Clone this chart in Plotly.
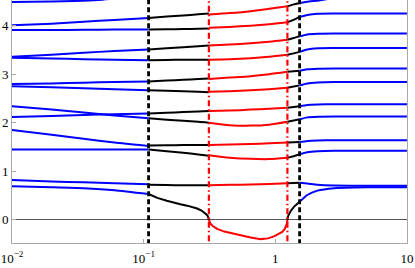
import plotly.graph_objects as go

# ---- x sample points of each regime segment ----
x_seg1 = [0.01, 0.02, 0.035, 0.06, 0.109]
x_seg2 = [0.109, 0.15, 0.2, 0.26, 0.313]
x_seg3 = [0.313, 0.45, 0.65, 0.9, 1.236]
x_seg4 = [1.236, 1.38, 1.53]
x_seg5 = [1.53, 1.75, 2.1, 2.8, 5, 10]
seg_colors = ["#0000ff", "#000000", "#ff0000", "#000000", "#0000ff"]

# ---- branch values (one list per segment) ----
branch_B = [[4.01, 4.04, 4.08, 4.12, 4.16], [4.16, 4.19, 4.21, 4.235, 4.25],
            [4.23, 4.26, 4.30, 4.35, 4.40], [4.40, 4.44, 4.47]]
x_B_tail = [1.53, 1.8, 2.14, 2.5]
y_B_tail = [4.47, 4.50, 4.52, 4.55]
branch_C = [[3.91, 3.91, 3.915, 3.92, 3.92], [3.92, 3.925, 3.93, 3.935, 3.94],
            [3.96, 3.975, 4.00, 4.03, 4.07], [4.07, 4.12, 4.18],
            [4.18, 4.22, 4.245, 4.25, 4.25, 4.25]]
branch_D = [[3.36, 3.40, 3.44, 3.48, 3.51], [3.51, 3.535, 3.555, 3.575, 3.59],
            [3.59, 3.61, 3.64, 3.67, 3.71], [3.71, 3.745, 3.78],
            [3.78, 3.82, 3.835, 3.84, 3.84, 3.84]]
branch_E = [[3.34, 3.325, 3.31, 3.30, 3.29], [3.29, 3.295, 3.30, 3.30, 3.30],
            [3.30, 3.31, 3.33, 3.36, 3.40], [3.40, 3.43, 3.46],
            [3.46, 3.51, 3.535, 3.54, 3.54, 3.54]]
branch_F = [[2.80, 2.81, 2.825, 2.84, 2.85], [2.85, 2.87, 2.885, 2.90, 2.91],
            [2.90, 2.93, 2.96, 3.00, 3.05], [3.05, 3.06, 3.07],
            [3.07, 3.10, 3.115, 3.12, 3.12, 3.12]]
branch_G = [[2.75, 2.73, 2.71, 2.69, 2.67], [2.67, 2.66, 2.65, 2.64, 2.63],
            [2.64, 2.65, 2.67, 2.69, 2.72], [2.72, 2.745, 2.77],
            [2.77, 2.81, 2.83, 2.84, 2.84, 2.84]]
branch_H = [[2.34, 2.27, 2.21, 2.15, 2.09], [2.09, 2.06, 2.04, 2.02, 2.00],
            [2.00, 1.95, 1.94, 1.96, 2.02], [2.02, 2.045, 2.07],
            [2.07, 2.11, 2.125, 2.13, 2.13, 2.13]]
branch_I = [[2.12, 2.14, 2.16, 2.175, 2.19], [2.19, 2.205, 2.22, 2.23, 2.24],
            [2.24, 2.25, 2.27, 2.29, 2.31], [2.31, 2.325, 2.34],
            [2.34, 2.365, 2.375, 2.38, 2.38, 2.38]]
branch_J = [[1.85, 1.75, 1.67, 1.59, 1.52], [1.53, 1.535, 1.54, 1.54, 1.54],
            [1.54, 1.55, 1.56, 1.575, 1.59], [1.59, 1.595, 1.60],
            [1.60, 1.625, 1.635, 1.64, 1.64, 1.64]]
branch_K = [[1.45, 1.45, 1.45, 1.45, 1.45], [1.45, 1.41, 1.38, 1.345, 1.32],
            [1.33, 1.28, 1.255, 1.25, 1.28], [1.28, 1.31, 1.35],
            [1.35, 1.39, 1.41, 1.42, 1.42, 1.42]]
branch_L = [[0.82, 0.79, 0.77, 0.75, 0.73], [0.72, 0.715, 0.71, 0.71, 0.71],
            [0.71, 0.72, 0.725, 0.735, 0.75], [0.75, 0.755, 0.76],
            [0.76, 0.745, 0.72, 0.705, 0.70, 0.70]]

# top branch leaving the frame on the left
x_A = [0.01, 0.02, 0.03, 0.045, 0.06]
y_A = [4.49, 4.50, 4.51, 4.53, 4.56]

# lowest branch (goes negative)
x_M1 = x_seg1
y_M1 = [0.69, 0.67, 0.65, 0.61, 0.53]
x_M2 = [0.109, 0.127, 0.15, 0.169, 0.19, 0.214, 0.235, 0.255, 0.275, 0.29, 0.3, 0.307, 0.311, 0.313]
y_M2 = [0.53, 0.45, 0.39, 0.35, 0.32, 0.29, 0.26, 0.23, 0.19, 0.15, 0.11, 0.075, 0.045, 0.0]
x_M3 = [0.313, 0.316, 0.322, 0.335, 0.362, 0.41, 0.485, 0.56, 0.65, 0.774, 0.88, 0.977, 1.06, 1.13, 1.18, 1.213, 1.228, 1.236]
y_M3 = [0.0, -0.04, -0.08, -0.13, -0.19, -0.245, -0.29, -0.33, -0.365, -0.40, -0.385, -0.345, -0.30, -0.25, -0.19, -0.12, -0.07, 0.0]
x_M4 = [1.236, 1.24, 1.25, 1.27, 1.31, 1.39, 1.46, 1.53]
y_M4 = [0.0, 0.04, 0.07, 0.11, 0.18, 0.27, 0.32, 0.37]
x_M5 = [1.53, 1.75, 2.09, 2.8, 4, 6, 10]
y_M5 = [0.37, 0.51, 0.60, 0.65, 0.665, 0.67, 0.67]

# transition markers
trans_black = [0.109, 1.53]
trans_red = [0.313, 1.236]

# axis ticks
x_tickvals = [0.01, 0.1, 1, 10]
x_ticktext = ["10<sup>\u22122</sup>", "10<sup>\u22121</sup>", "1", "10"]
y_tickvals = [0, 1, 2, 3, 4]

fig = go.Figure()
LW = 2


def add(x, y, color, shape="spline"):
    fig.add_trace(go.Scatter(x=x, y=y, mode="lines",
                             line=dict(color=color, width=LW, shape=shape, smoothing=0.6),
                             showlegend=False, hoverinfo="skip"))


seg_x = [x_seg1, x_seg2, x_seg3, x_seg4, x_seg5]
for br in [branch_B, branch_C, branch_D, branch_E, branch_F, branch_G,
           branch_H, branch_I, branch_J, branch_K, branch_L]:
    for i, ys in enumerate(br):
        add(seg_x[i], ys, seg_colors[i])
add(x_B_tail, y_B_tail, seg_colors[4])
add(x_A, y_A, seg_colors[0])
for i, (xm, ym) in enumerate([(x_M1, y_M1), (x_M2, y_M2), (x_M3, y_M3), (x_M4, y_M4), (x_M5, y_M5)]):
    add(xm, ym, seg_colors[i], shape="linear" if i in (1, 2, 3) else "spline")

for xv in trans_black:
    fig.add_trace(go.Scatter(x=[xv, xv], y=[-1, 5], mode="lines",
                             line=dict(color="#000000", width=2.8, dash="5px,3px"),
                             showlegend=False, hoverinfo="skip"))
for xv in trans_red:
    fig.add_trace(go.Scatter(x=[xv, xv], y=[-1, 5], mode="lines",
                             line=dict(color="#ff0000", width=2.2, dash="6px,3px,1.5px,3px"),
                             showlegend=False, hoverinfo="skip"))

axis_common = dict(showline=True, mirror=True, linecolor="#a8a8a8", linewidth=1,
                   ticks="inside", ticklen=4, tickcolor="#a8a8a8", tickwidth=1,
                   showgrid=False, automargin=False,
                   tickfont=dict(family="Liberation Serif, DejaVu Serif, serif", size=13, color="#000"))

fig.update_xaxes(type="log", range=[-2, 1.0005], tickvals=x_tickvals, ticktext=x_ticktext,
                 zeroline=False, ticklabelstandoff=3, **axis_common)
fig.update_yaxes(range=[-0.48, 4.53], tickvals=y_tickvals, zeroline=True,
                 zerolinecolor="#555555", zerolinewidth=1, **axis_common)

fig.update_layout(width=415, height=268, margin=dict(l=12, r=8, t=0, b=25),
                  plot_bgcolor="white", paper_bgcolor="white", template="none")

fig.write_html("out.html", config={"displayModeBar": False},
               post_script="document.body.style.margin='0px';")
